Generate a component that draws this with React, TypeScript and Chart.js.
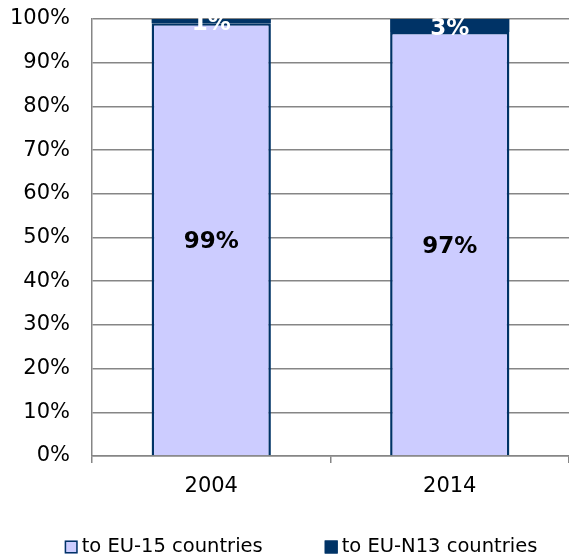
import React, { useEffect, useRef } from "react";
import { Chart, registerables } from "chart.js";

Chart.register(...registerables);

const categories = ["2004", "2014"];
const seriesNames = ["to EU-15 countries", "to EU-N13 countries"];
const eu15Values = [99, 97];
const euN13Values = [1, 3];
const yTicks = [0, 10, 20, 30, 40, 50, 60, 70, 80, 90, 100];

const FONT = "'DejaVu Sans', Verdana, sans-serif";
const LIGHT = "#CCCCFF";
const DARK = "#003366";
const GRID = "#868686";

const labelPlugin = {
  id: "segLabels",
  afterDatasetsDraw(chart: any) {
    const ctx = chart.ctx;
    ctx.save();
    ctx.font = `bold 23px ${FONT}`;
    ctx.textAlign = "center";
    ctx.textBaseline = "middle";
    chart.data.datasets.forEach((ds: any, di: number) => {
      const meta = chart.getDatasetMeta(di);
      meta.data.forEach((bar: any, i: number) => {
        const v = ds.data[i];
        const yc = (bar.y + bar.base) / 2 + 3;
        ctx.fillStyle = di === 0 ? "#000000" : "#FFFFFF";
        ctx.fillText(v + "%", bar.x, yc);
      });
    });
    ctx.restore();
  },
};

const legendPlugin = {
  id: "customLegend",
  afterDraw(chart: any) {
    const ctx = chart.ctx;
    ctx.save();
    ctx.font = `19.5px ${FONT}`;
    ctx.textBaseline = "middle";
    ctx.textAlign = "left";
    const box = 13;
    const gap = 4;
    const itemGap = 62;
    const items = chart.data.datasets.map((ds: any) => ({
      label: ds.label,
      fill: ds.backgroundColor,
      stroke: ds.borderColor,
      w: ctx.measureText(ds.label).width,
    }));
    const total = items.reduce((s: number, it: any) => s + box + gap + it.w, 0) + itemGap * (items.length - 1);
    let x = 301 - total / 2;
    const y = 547;
    items.forEach((it: any) => {
      ctx.fillStyle = it.fill;
      ctx.fillRect(x, y - box / 2, box, box);
      ctx.strokeStyle = it.stroke;
      ctx.lineWidth = 1.5;
      ctx.strokeRect(x + 0.75, y - box / 2 + 0.75, box - 1.5, box - 1.5);
      ctx.fillStyle = "#000000";
      ctx.fillText(it.label, x + box + gap, y);
      x += box + gap + it.w + itemGap;
    });
    ctx.restore();
  },
};

export default function App() {
  const ref = useRef<HTMLCanvasElement | null>(null);
  useEffect(() => {
    if (!ref.current) return;
    const chart = new Chart(ref.current, {
      type: "bar",
      data: {
        labels: categories,
        datasets: [
          {
            label: seriesNames[0],
            data: eu15Values,
            backgroundColor: LIGHT,
            borderColor: DARK,
            borderWidth: 2.5,
            barPercentage: 1,
            categoryPercentage: 0.5,
          },
          {
            label: seriesNames[1],
            data: euN13Values,
            backgroundColor: DARK,
            borderColor: DARK,
            borderWidth: 0,
            barPercentage: 1,
            categoryPercentage: 0.5,
          },
        ],
      },
      options: {
        animation: false,
        responsive: false,
        maintainAspectRatio: false,
        layout: { padding: { top: 19, left: 0, right: 0, bottom: 0 } },
        plugins: {
          legend: { display: false },
          tooltip: { enabled: false },
        },
        scales: {
          x: {
            stacked: true,
            afterFit: (s: any) => {
              s.height = 104;
            },
            grid: {
              display: true,
              drawOnChartArea: false,
              offset: true,
              tickLength: 7,
              color: GRID,
              lineWidth: 1.5,
            },
            border: { display: true, color: GRID, width: 1.5 },
            ticks: {
              color: "#000000",
              font: { family: FONT, size: 21 },
              padding: 11,
            },
          },
          y: {
            stacked: true,
            min: 0,
            max: 100,
            afterFit: (s: any) => {
              s.width = 92;
              s.paddingTop = 0;
              s.paddingBottom = 0;
            },
            afterBuildTicks: (s: any) => {
              s.ticks = yTicks.map((v) => ({ value: v }));
            },
            grid: {
              color: GRID,
              lineWidth: 1.5,
              drawTicks: false,
            },
            border: { display: true, color: GRID, width: 1.5 },
            ticks: {
              color: "#000000",
              font: { family: FONT, size: 21 },
              padding: 22,
              callback: (v: any) => v + "%",
            },
          },
        },
      },
      plugins: [labelPlugin, legendPlugin],
    });
    return () => chart.destroy();
  }, []);
  return (
    <div style={{ position: "absolute", left: 0, top: 0, width: 569, height: 560 }}>
      <canvas ref={ref} width={569} height={560} style={{ width: 569, height: 560 }} />
    </div>
  );
}
